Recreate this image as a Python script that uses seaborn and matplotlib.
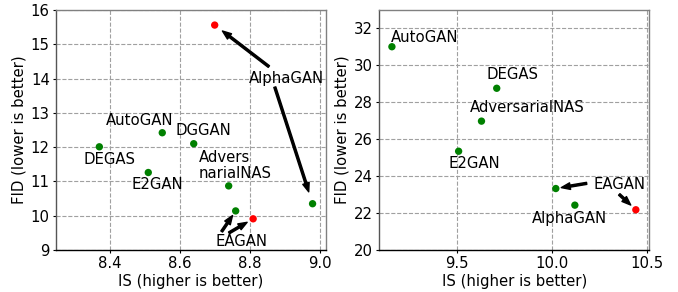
import matplotlib.pyplot as plt
import pandas as pd
import seaborn as sns

# CIFAR-10 (left panel)
cifar_models = ["DEGAS", "AutoGAN", "DGGAN", "E2GAN", "AdversarialNAS",
                "EAGAN", "EAGAN", "AlphaGAN", "AlphaGAN"]
cifar_is = [8.37, 8.55, 8.64, 8.51, 8.74, 8.76, 8.81, 8.70, 8.98]
cifar_fid = [12.01, 12.42, 12.10, 11.26, 10.87, 10.14, 9.91, 15.56, 10.35]
cifar_group = ["other", "other", "other", "other", "other",
               "other", "ours", "ours", "other"]

# STL-10 (right panel)
stl_models = ["AutoGAN", "DEGAS", "AdversarialNAS", "E2GAN",
              "EAGAN", "AlphaGAN", "EAGAN"]
stl_is = [9.16, 9.71, 9.63, 9.51, 10.02, 10.12, 10.44]
stl_fid = [31.01, 28.76, 26.98, 25.35, 23.33, 22.43, 22.18]
stl_group = ["other", "other", "other", "other", "other", "other", "ours"]

palette = {"other": "green", "ours": "red"}
FS = 10.7

sns.set_style("white")
plt.rcParams["font.family"] = ["DejaVu Sans"]
plt.rcParams["font.size"] = FS
plt.rcParams["text.color"] = "black"
plt.rcParams["axes.labelcolor"] = "black"
plt.rcParams["xtick.color"] = "black"
plt.rcParams["ytick.color"] = "black"


def style_axes(ax, xlim, ylim, yticks):
    ax.set_xlim(*xlim)
    ax.set_ylim(*ylim)
    ax.set_yticks(yticks)
    ax.grid(True, linestyle="--", color="#a0a0a0", linewidth=0.8)
    ax.set_axisbelow(True)
    ax.tick_params(axis="both", direction="out", length=2, width=0.8, pad=2.5,
                   labelsize=FS, left=True, bottom=True, color="black",
                   labelcolor="black")
    ax.spines["bottom"].set_color("black")
    ax.spines["left"].set_color("#555555")
    for side in ["top", "right"]:
        ax.spines[side].set_color("#808080")
    for side in ["left", "bottom", "top", "right"]:
        ax.spines[side].set_linewidth(1.0)
    ax.set_xlabel("IS (higher is better)", fontsize=FS, labelpad=2)
    ax.set_ylabel("FID (lower is better)", fontsize=FS, labelpad=3)


def arrow(ax, start, target, shrink_end):
    ax.annotate("", xy=target, xytext=start,
                arrowprops=dict(arrowstyle="simple,head_length=0.6,head_width=0.45,tail_width=0.14",
                                fc="black", ec="black", shrinkA=0, shrinkB=shrink_end))


fig = plt.figure(figsize=(6.78, 2.92), dpi=100)
ax1 = fig.add_axes([0.0826, 0.1438, 0.398, 0.822])
ax2 = fig.add_axes([0.5595, 0.1438, 0.398, 0.822])

cifar = pd.DataFrame({"IS": cifar_is, "FID": cifar_fid, "group": cifar_group})
stl = pd.DataFrame({"IS": stl_is, "FID": stl_fid, "group": stl_group})

sns.scatterplot(data=cifar, x="IS", y="FID", hue="group", palette=palette,
                s=28, linewidth=0, legend=False, ax=ax1, zorder=3)
sns.scatterplot(data=stl, x="IS", y="FID", hue="group", palette=palette,
                s=28, linewidth=0, legend=False, ax=ax2, zorder=3)

style_axes(ax1, (8.246, 9.018), (9, 16), range(9, 17))
ax1.set_xticks([8.4, 8.6, 8.8, 9.0])
style_axes(ax2, (9.094, 10.51), (20, 33), range(20, 33, 2))
ax2.set_xticks([9.5, 10.0, 10.5])

# left panel labels
ax1.text(8.485, 12.79, "AutoGAN", ha="center", va="center")
ax1.text(8.669, 12.48, "DGGAN", ha="center", va="center")
ax1.text(8.398, 11.65, "DEGAS", ha="center", va="center")
ax1.text(8.536, 10.92, "E2GAN", ha="center", va="center")
ax1.text(8.655, 11.46, "Advers\nnarialNAS", ha="left", va="center", linespacing=1.1)
ax1.text(8.904, 13.99, "AlphaGAN", ha="center", va="center")
ax1.text(8.777, 9.245, "EAGAN", ha="center", va="center")

arrow(ax1, (8.855, 14.35), (cifar_is[7], cifar_fid[7]), 7)
arrow(ax1, (8.872, 13.75), (cifar_is[8], cifar_fid[8]), 9)
arrow(ax1, (8.72, 9.54), (cifar_is[5], cifar_fid[5]), 4)
arrow(ax1, (8.741, 9.50), (cifar_is[6], cifar_fid[6]), 5)

# right panel labels
ax2.text(9.33, 31.49, "AutoGAN", ha="center", va="center")
ax2.text(9.795, 29.53, "DEGAS", ha="center", va="center")
ax2.text(9.872, 27.74, "AdversarialNAS", ha="center", va="center")
ax2.text(9.594, 24.69, "E2GAN", ha="center", va="center")
ax2.text(10.353, 23.55, "EAGAN", ha="center", va="center")
ax2.text(10.094, 21.71, "AlphaGAN", ha="center", va="center")

arrow(ax2, (10.182, 23.61), (stl_is[4], stl_fid[4]), 4)
arrow(ax2, (10.353, 23.01), (stl_is[6], stl_fid[6]), 5)

fig.savefig("out.png", dpi=100)
